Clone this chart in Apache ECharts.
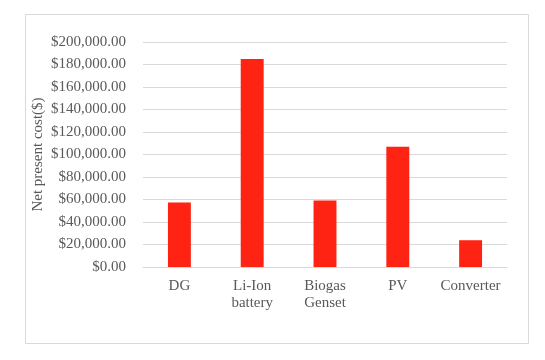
<!DOCTYPE html>
<html lang="en">
<head>
    <meta charset="UTF-8">
    <title>Net present cost</title>
    <script src="https://cdn.jsdelivr.net/npm/echarts@6/dist/echarts.min.js"></script>
    <style>
        html, body { margin: 0; padding: 0; background: #fff; }
    </style>
</head>
<body>

<div id="main" style="width: 545px;height:360px;"></div>

<script type="text/javascript">
    // components and their net present cost
    var categories = ['DG', 'Li-Ion\nbattery', 'Biogas\nGenset', 'PV', 'Converter'];
    var costs = [57400, 185000, 59200, 107000, 23800];
    var yTicks = [0, 20000, 40000, 60000, 80000, 100000, 120000, 140000, 160000, 180000, 200000];

    var textFont = 'Liberation Serif';
    var textColor = '#595959';

    function money(v) {
        return '$' + v.toLocaleString('en-US', {minimumFractionDigits: 2, maximumFractionDigits: 2});
    }

    var myChart = echarts.init(document.getElementById('main'));

    var option = {
        animation: false,
        graphic: [{
            type: 'rect',
            shape: {x: 25.5, y: 14.5, width: 503, height: 329},
            style: {fill: 'none', stroke: '#d9d9d9', lineWidth: 1},
            silent: true
        }],
        grid: {
            left: 143,
            right: 38,
            top: 42,
            bottom: 93
        },
        xAxis: {
            type: 'category',
            data: categories,
            axisTick: {show: false},
            axisLine: {lineStyle: {color: '#d9d9d9', width: 1}},
            axisLabel: {
                color: textColor,
                fontFamily: textFont,
                fontSize: 15,
                lineHeight: 17,
                margin: 11,
                interval: 0
            }
        },
        yAxis: {
            type: 'value',
            min: yTicks[0],
            max: yTicks[yTicks.length - 1],
            interval: 20000,
            name: 'Net present cost($)',
            nameLocation: 'middle',
            nameGap: 97,
            nameMoveOverlap: false,
            nameTextStyle: {
                color: textColor,
                fontFamily: textFont,
                fontSize: 15
            },
            axisLine: {show: false},
            axisTick: {show: false},
            splitLine: {lineStyle: {color: '#d9d9d9', width: 1}},
            axisLabel: {
                color: textColor,
                fontFamily: textFont,
                fontSize: 15,
                margin: 17,
                formatter: money
            }
        },
        series: [{
            type: 'bar',
            data: costs,
            barWidth: '31.5%',
            itemStyle: {color: '#fe2312'}
        }]
    };

    myChart.setOption(option);
</script>
</body>
</html>
